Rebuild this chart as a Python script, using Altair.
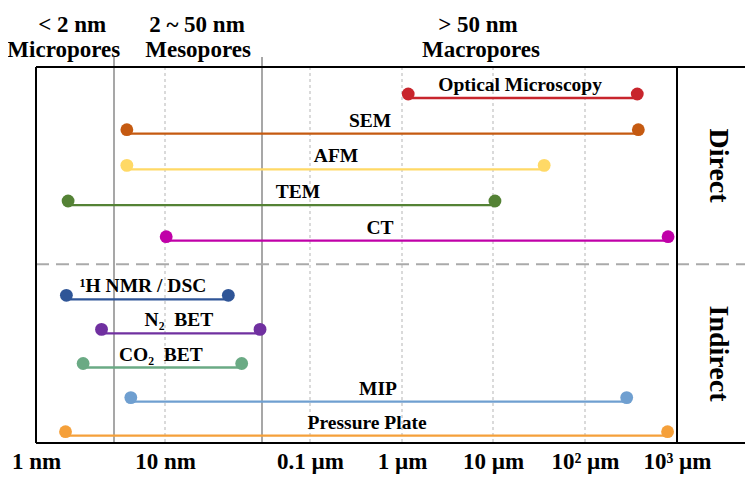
import altair as alt
import pandas as pd

# ---- data -------------------------------------------------------------
methods = ["Optical Microscopy", "SEM", "AFM", "TEM", "CT",
           "¹H NMR / DSC", "N₂\u00a0 BET", "CO₂\u00a0 BET", "MIP", "Pressure Plate"]
lo_nm = [1170, 3.0, 3.0, 1.33, 10.2, 1.31, 1.79, 1.52, 3.4, 1.30]
hi_nm = [3.7e5, 3.8e5, 3.6e4, 1.05e4, 8.0e5, 28.6, 48.4, 35.7, 2.84e5, 7.9e5]
label_nm = [1.97e4, 449, 192, 84, 577, 5.0, 12.6, 8.8, 548, 417]
rows = list(range(1, 11))
colors = ["#C8252C", "#C55A11", "#FFD966", "#548235", "#C000A8",
          "#2F5597", "#7030A0", "#6AAA84", "#6F9FD0", "#F5A03A"]

tick_nm = [1, 10, 100, 1000, 10000, 100000, 1000000]
tick_text = ["1 nm", "10 nm", "0.1 µm", "1 µm", "10 µm", "10² µm", "10³ µm"]
grid_nm = [10, 100, 1000, 10000, 100000]
class_bound_nm = [2, 50]
panel_edge_nm = [1000000]
separator_row = [5.4]

head1_text = ["< 2 nm", "2 ~ 50 nm", "> 50 nm"]
head1_nm = [1.38, 17.0, 6840]
head2_text = ["Micropores", "Mesopores", "Macropores"]
head2_nm = [1.28, 17.3, 7380]

# ---- tables ------------------------------------------------------------
df = pd.DataFrame({"method": methods, "lo": lo_nm, "hi": hi_nm,
                   "lab": label_nm, "row": rows})
pts = pd.DataFrame({"method": methods * 2, "x": lo_nm + hi_nm, "row": rows * 2})
grid_df = pd.DataFrame({"x": grid_nm})
bound_df = pd.DataFrame({"x": class_bound_nm})
edge_df = pd.DataFrame({"x": panel_edge_nm})
sep_df = pd.DataFrame({"row": separator_row})
h1 = pd.DataFrame({"t": head1_text, "x": head1_nm})
h2 = pd.DataFrame({"t": head2_text, "x": head2_nm})
one = pd.DataFrame({"a": [0]})

W, H = 709, 376
FONT = "Liberation Serif"

xscale = alt.Scale(type="log",
                   domain=[1, 2, 10, 50, 100, 1e3, 1e4, 1e5, 1e6],
                   range=[0, 78, 129, 226, 274, 366, 457, 549, 641],
                   nice=False)
yscale = alt.Scale(domain=[1, 5, 6, 10], range=[31, 173.7, 232.3, 368.7],
                   nice=False, zero=False)
cscale = alt.Scale(domain=methods, range=colors)

label_expr = ("[" + ",".join("'%s'" % t for t in tick_text) + "][indexof(["
              + ",".join(str(v) for v in tick_nm) + "], datum.value)]")

xaxis = alt.Axis(values=tick_nm, labelExpr=label_expr, ticks=False,
                 domain=False, grid=False, labelFont=FONT,
                 labelFontSize=23, labelFontWeight="bold",
                 labelColor="black", labelPadding=7,
                 labelFlush=False, labelOverlap=False, title=None)


def X(field):
    return alt.X(field, type="quantitative", scale=xscale, axis=xaxis)


def Y(field):
    return alt.Y(field, type="quantitative", scale=yscale, axis=None)


grid = alt.Chart(grid_df).mark_rule(color="#b5b5b5", strokeWidth=1,
                                    strokeDash=[3, 3]).encode(
    x=X("x"), y=alt.value(0), y2=alt.value(H))

bounds = alt.Chart(bound_df).mark_rule(color="#8a8a8a", strokeWidth=1.5).encode(
    x=X("x"), y=alt.value(-10), y2=alt.value(H))

sep = alt.Chart(sep_df).mark_rule(color="#aaaaaa", strokeWidth=2,
                                  strokeDash=[13, 7]).encode(
    y=Y("row"), x=alt.value(0), x2=alt.value(W))

lines = alt.Chart(df).mark_rule(strokeWidth=2.3).encode(
    x=X("lo"), x2="hi", y=Y("row"),
    color=alt.Color("method:N", scale=cscale, legend=None))

dots = alt.Chart(pts).mark_circle(size=165, opacity=1, yOffset=-4).encode(
    x=X("x"), y=Y("row"),
    color=alt.Color("method:N", scale=cscale, legend=None))

labels = alt.Chart(df).mark_text(font=FONT, fontSize=19.5, fontWeight="bold",
                                 color="black", dy=-13, baseline="middle").encode(
    x=X("lab"), y=Y("row"), text="method:N")

frame_left = alt.Chart(one).mark_rule(color="black", strokeWidth=2).encode(
    x=alt.value(0), y=alt.value(0), y2=alt.value(H))
frame_top = alt.Chart(one).mark_rule(color="black", strokeWidth=2).encode(
    x=alt.value(0), x2=alt.value(W), y=alt.value(0))
frame_bot = alt.Chart(one).mark_rule(color="black", strokeWidth=2).encode(
    x=alt.value(0), x2=alt.value(W), y=alt.value(H))
frame_edge = alt.Chart(edge_df).mark_rule(color="black", strokeWidth=2).encode(
    x=X("x"), y=alt.value(0), y2=alt.value(H))

head_a = alt.Chart(h1).mark_text(font=FONT, fontSize=23, fontWeight="bold",
                                 color="black", baseline="middle").encode(
    x=X("x"), y=alt.value(-42), text="t:N")
head_b = alt.Chart(h2).mark_text(font=FONT, fontSize=23, fontWeight="bold",
                                 color="black", baseline="middle").encode(
    x=X("x"), y=alt.value(-17), text="t:N")

direct = alt.Chart(one).mark_text(text="Direct", font=FONT, fontSize=28,
                                  fontWeight="bold", color="black", angle=90,
                                  baseline="middle", align="center").encode(
    x=alt.value(682), y=alt.value(98.5))
indirect = alt.Chart(one).mark_text(text="Indirect", font=FONT, fontSize=28,
                                    fontWeight="bold", color="black", angle=90,
                                    baseline="middle", align="center").encode(
    x=alt.value(682), y=alt.value(286.5))

chart = alt.layer(grid, bounds, sep, lines, dots, labels, frame_left, frame_top,
                  frame_bot, frame_edge, head_a, head_b, direct, indirect).properties(
    width=W, height=H,
    autosize=alt.AutoSizeParams(type="none"),
    padding={"left": 28, "top": 59, "right": 0, "bottom": 32},
    background="white",
).configure_view(stroke=None)

chart.save("out.html", embed_options={"renderer": "svg", "actions": False})
